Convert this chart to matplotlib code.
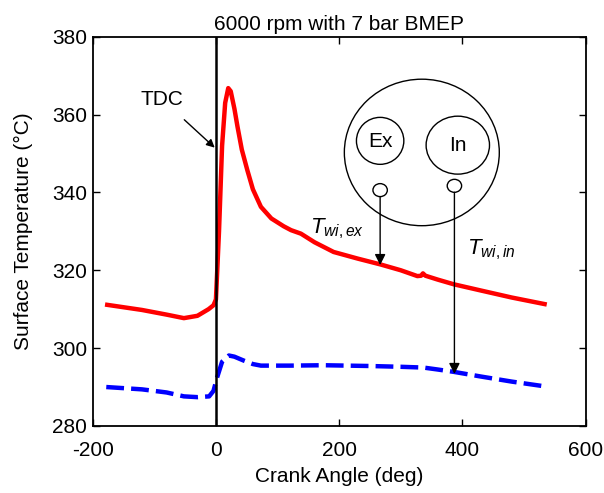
import numpy as np
import matplotlib.pyplot as plt
from matplotlib.patches import Ellipse

plt.rcParams['font.family'] = ['Liberation Sans', 'DejaVu Sans']
plt.rcParams['axes.unicode_minus'] = False
plt.rcParams['mathtext.fontset'] = 'custom'
plt.rcParams['mathtext.it'] = 'Liberation Sans:italic'
plt.rcParams['mathtext.rm'] = 'Liberation Sans'

# exhaust-side surface temperature (red)
ex_angle = [-180, -120, -80, -52, -30, -12, -4, 0, 5, 10, 15, 20, 24, 30, 35, 42, 51, 60, 73,
            90, 110, 122, 138, 160, 191, 230, 267, 300, 327, 333, 336, 340, 360, 386, 430, 480, 537]
ex_temp = [311.2, 309.8, 308.6, 307.7, 308.3, 310.0, 311.0, 312.5, 330, 352, 363, 366.8, 366.0,
           361.5, 356.9, 351.0, 345.7, 340.8, 336.3, 333.3, 331.3, 330.3, 329.4, 327.2, 324.7,
           323.0, 321.5, 320.0, 318.5, 318.6, 319.2, 318.6, 317.6, 316.4, 314.8, 313.0, 311.2]

# intake-side surface temperature (blue)
in_angle = [-178, -120, -80, -52, -30, -11, -4, 2, 10, 21, 30, 45, 60, 73, 120, 175, 250, 300, 337,
            360, 386, 430, 480, 537]
in_temp = [290.0, 289.4, 288.6, 287.6, 287.4, 287.6, 289.0, 292.5, 296.5, 298.1, 297.8, 296.8,
           295.9, 295.5, 295.5, 295.6, 295.4, 295.2, 295.0, 294.5, 293.9, 292.7, 291.4, 290.1]

fig = plt.figure(figsize=(6.04, 4.93), dpi=100)
ax = fig.add_axes([0.1535, 0.136, 0.8160, 0.7895])

ax.plot(ex_angle, ex_temp, color='#ff0000', lw=3.2, solid_capstyle='butt')
ax.plot(in_angle, in_temp, color='#0000ff', lw=3.2, dashes=(4, 1.6))
ax.axvline(0, color='black', lw=1.8)

ax.set_xlim(-200, 600)
ax.set_ylim(280, 380)
ax.set_xticks([-200, 0, 200, 400, 600])
ax.set_yticks([280, 300, 320, 340, 360, 380])
ax.tick_params(direction='in', top=True, right=True, length=5, width=1, labelsize=15, pad=4)
ax.tick_params(axis='x', pad=11)
for s in ax.spines.values():
    s.set_linewidth(1.3)

ax.set_xlabel('Crank Angle (deg)', fontsize=15, labelpad=5)
ax.set_ylabel('Surface Temperature (\u00b0C)', fontsize=15, labelpad=14)
ax.set_title('6000 rpm with 7 bar BMEP', fontsize=15, pad=5)

# TDC annotation
ax.annotate('TDC', xy=(-2, 351.5), xytext=(-88, 364), fontsize=15, ha='center', va='center',
            arrowprops=dict(arrowstyle='-|>', color='black', lw=1, mutation_scale=12,
                            shrinkA=9, shrinkB=0))

# sensor schematic (drawn in pixel-based axes fraction)
W, H = 493.0, 389.5
def fx(px):
    return (px - 92.5) / W
def fy(py):
    return (426.0 - py) / H

kw = dict(transform=ax.transAxes, fill=False, ec='black', lw=1)
ax.add_patch(Ellipse((fx(421.7), fy(152.3)), 2 * 77.5 / W, 2 * 73.3 / H, **kw))
ax.add_patch(Ellipse((fx(380), fy(140.7)), 2 * 23.7 / W, 2 * 23.5 / H, **kw))
ax.add_patch(Ellipse((fx(457.7), fy(145)), 2 * 31.7 / W, 2 * 29.0 / H, **kw))
ax.add_patch(Ellipse((fx(380), fy(190)), 2 * 7.2 / W, 2 * 6.5 / H, **kw))
ax.add_patch(Ellipse((fx(454.3), fy(185.7)), 2 * 7.2 / W, 2 * 6.5 / H, **kw))
ax.text(fx(380), fy(141.5), 'Ex', transform=ax.transAxes, fontsize=15, ha='center', va='center')
ax.text(fx(457.7), fy(145.5), 'In', transform=ax.transAxes, fontsize=15, ha='center', va='center')

arr = dict(arrowstyle='-|>', color='black', lw=1, mutation_scale=16, shrinkA=0, shrinkB=0)
ax.annotate('', xy=(fx(380), fy(265)), xytext=(fx(380), fy(196.5)),
            xycoords='axes fraction', textcoords='axes fraction', arrowprops=arr)
ax.annotate('', xy=(fx(454.3), fy(374)), xytext=(fx(454.3), fy(192.2)),
            xycoords='axes fraction', textcoords='axes fraction', arrowprops=arr)

ax.text(fx(337), fy(229), r'$T_{wi,ex}$', transform=ax.transAxes, fontsize=16,
        ha='center', va='center')
ax.text(fx(491), fy(250), r'$T_{wi,in}$', transform=ax.transAxes, fontsize=16,
        ha='center', va='center')

fig.savefig('out.png', dpi=100)
